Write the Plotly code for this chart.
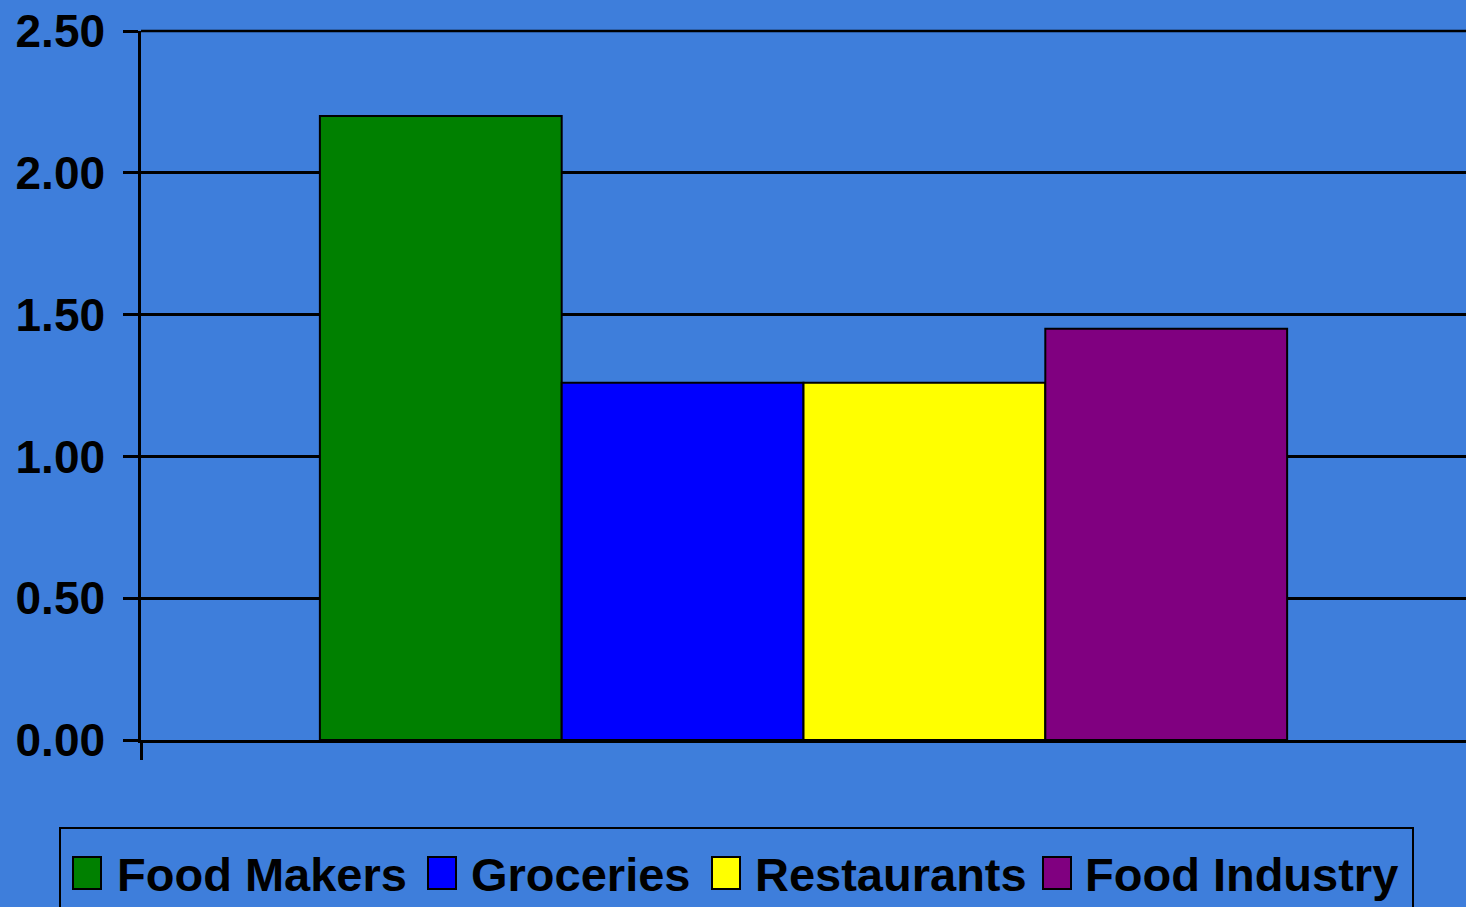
import plotly.graph_objects as go

series_names = ["Food Makers", "Groceries", "Restaurants", "Food Industry"]
series_values = [2.20, 1.26, 1.26, 1.45]
series_colors = ["#008000", "#0000FF", "#FFFF00", "#800080"]
y_ticks = [0.0, 0.5, 1.0, 1.5, 2.0, 2.5]
y_tick_labels = ["0.00", "0.50", "1.00", "1.50", "2.00", "2.50"]

BG = "#3E7EDB"
FONT = "Liberation Sans, Arial, sans-serif"

W, H = 1466, 907
ML, MR, MT, MB = 141, 0, 31, 167
PW, PH = W - ML - MR, H - MT - MB


def px_x(px):
    return (px - ML) / PW


def px_y(py):
    return (H - MB - py) / PH


fig = go.Figure()
for name, val, col in zip(series_names, series_values, series_colors):
    fig.add_trace(go.Bar(
        x=[0], y=[val], name=name, showlegend=False,
        marker=dict(color=col, line=dict(color="black", width=2)),
    ))

# manual legend (large square swatches like the original)
legend_left, legend_right, legend_top = 60, 1413, 828
swatch_x = [73, 428, 712, 1043]
text_x = [115, 469, 753, 1083]
swatch_w, swatch_top, swatch_bot = 28, 857, 889
text_y = 874

shapes = [
    dict(type="rect", xref="paper", yref="paper",
         x0=px_x(legend_left), x1=px_x(legend_right),
         y0=px_y(legend_top), y1=px_y(H + 20),
         line=dict(color="black", width=2), fillcolor="rgba(0,0,0,0)", layer="above"),
    # top gridline at the top of the value axis (2.50)
    dict(type="line", xref="paper", yref="paper", x0=0, x1=1, y0=1, y1=1,
         line=dict(color="black", width=2.5), layer="below"),
]
annotations = []
for name, col, sx, tx in zip(series_names, series_colors, swatch_x, text_x):
    shapes.append(dict(type="rect", xref="paper", yref="paper",
                       x0=px_x(sx), x1=px_x(sx + swatch_w),
                       y0=px_y(swatch_bot), y1=px_y(swatch_top),
                       fillcolor=col, line=dict(color="black", width=2), layer="above"))
    annotations.append(dict(xref="paper", yref="paper", x=px_x(tx), y=px_y(text_y),
                            xanchor="left", yanchor="middle", showarrow=False,
                            text=name,
                            font=dict(family=FONT, size=47, color="black", weight="bold")))

fig.update_layout(
    width=W, height=H,
    paper_bgcolor=BG, plot_bgcolor=BG,
    margin=dict(l=ML, r=MR, t=MT, b=MB, pad=0),
    barmode="group", bargap=0.27, bargroupgap=0,
    font=dict(family=FONT, size=46, color="black"),
    showlegend=False,
    shapes=shapes,
    annotations=annotations,
    xaxis=dict(
        range=[-0.5, 0.5], tickmode="array", tickvals=[-0.5], ticktext=[""],
        ticks="outside", ticklen=17, tickwidth=2.5, tickcolor="black",
        showgrid=False, zeroline=False,
        showline=True, linecolor="black", linewidth=2.5,
    ),
    yaxis=dict(
        range=[0, 2.5], tickmode="array", tickvals=y_ticks, ticktext=y_tick_labels,
        ticks="outside", ticklen=15, tickwidth=2.5, tickcolor="black",
        showgrid=True, gridcolor="black", gridwidth=2.5,
        showline=True, linecolor="black", linewidth=2.5,
        zeroline=False, ticklabelstandoff=9,
        tickfont=dict(family=FONT, size=46, color="black", weight="bold"),
    ),
)

fig.write_html("out.html", config={"displayModeBar": False},
               post_script="document.body.style.margin='0';")
